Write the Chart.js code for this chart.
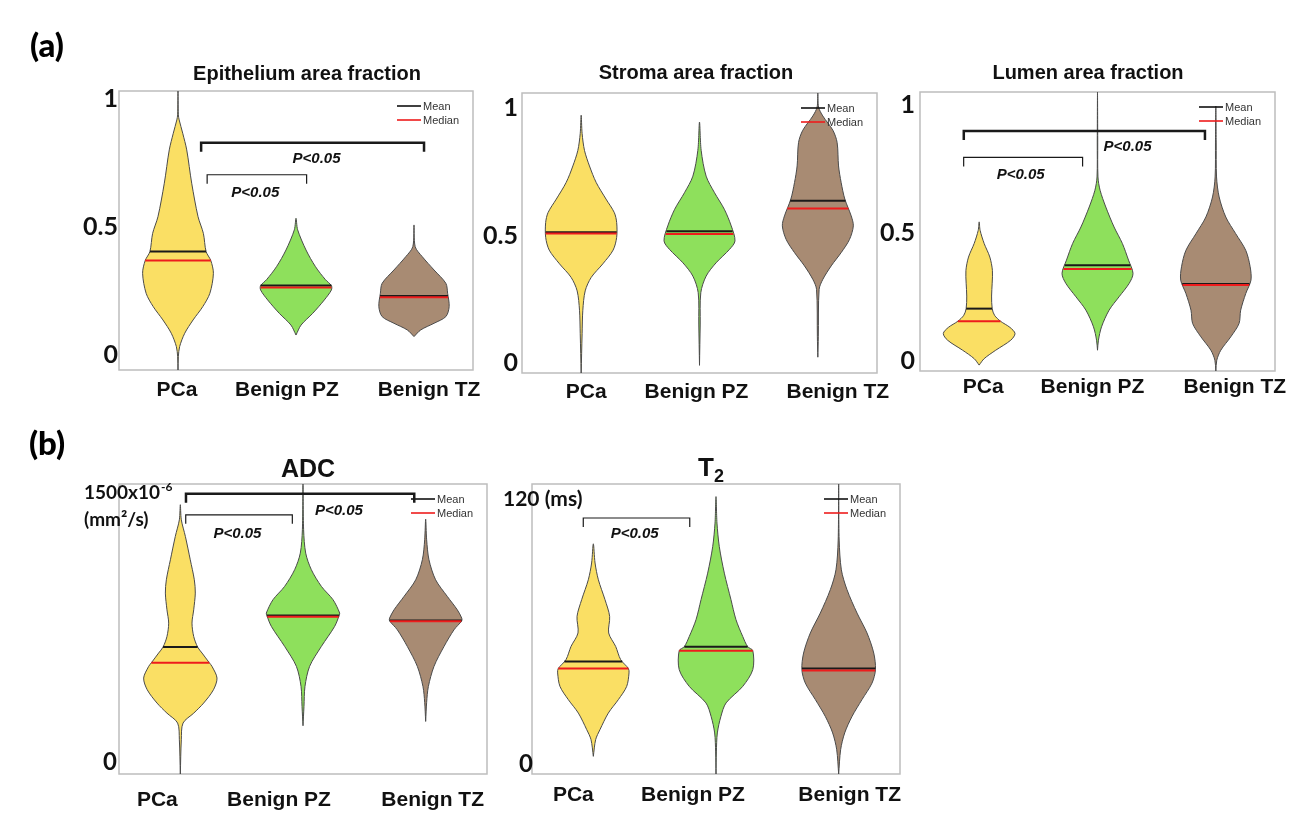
<!DOCTYPE html>
<html><head><meta charset="utf-8">
<script src="https://cdn.jsdelivr.net/npm/chart.js@4.4.1/dist/chart.umd.min.js"></script>
<style>
html,body{margin:0;padding:0;background:#fff;width:1296px;height:826px;overflow:hidden;}
.layer{position:absolute;left:0;top:0;width:1296px;height:826px;}
.txt{position:absolute;white-space:nowrap;color:#111;font-family:"Liberation Sans",Arial,sans-serif;font-weight:bold;transform:translate(-50%,-50%);}
</style></head><body>
<script>
// ---------------- DATA ----------------
const categories = ['PCa', 'Benign PZ', 'Benign TZ'];
const pLabel = 'P<0.05';

// violin profiles: [value, half-width (in category units)], bottom -> top
const epiPCa = [[-0.0625,0],[-0.01,0.003],[0.029,0.014],[0.081,0.057],[0.133,0.128],[0.185,0.21],[0.237,0.27],[0.315,0.30],[0.365,0.278],[0.40,0.238],[0.471,0.215],[0.536,0.17],[0.667,0.116],[0.797,0.074],[0.862,0.04],[0.914,0.01],[0.934,0.003],[1.027,0]];
const epiPZ  = [[0.074,0],[0.113,0.043],[0.159,0.142],[0.211,0.24],[0.25,0.30],[0.267,0.30],[0.29,0.25],[0.341,0.165],[0.406,0.085],[0.485,0.014],[0.53,0]];
const epiTZ  = [[0.068,0],[0.094,0.057],[0.12,0.17],[0.146,0.27],[0.185,0.298],[0.237,0.285],[0.276,0.27],[0.328,0.17],[0.38,0.07],[0.419,0.01],[0.504,0]];
const epiMean   = [0.40, 0.267, 0.226];
const epiMedian = [0.365, 0.26, 0.222];
const epiTicks = [0, 0.5, 1];
const epiTickLabels = ['0', '0.5', '1'];
const epiBrackets = [[1.196,3.085,0.825,1],[1.247,2.09,0.70,0]];
const epiPText = [[2.174,0.766],[1.655,0.633]];

const strPCa = [[-0.042,0],[0.112,0.008],[0.204,0.014],[0.28,0.034],[0.333,0.085],[0.386,0.183],[0.44,0.27],[0.49,0.30],[0.548,0.30],[0.587,0.28],[0.64,0.21],[0.705,0.127],[0.77,0.07],[0.831,0.028],[0.897,0.008],[0.969,0]];
const strPZ  = [[-0.012,0],[0.15,0.006],[0.273,0.011],[0.338,0.056],[0.39,0.14],[0.443,0.254],[0.476,0.30],[0.535,0.268],[0.6,0.21],[0.665,0.127],[0.73,0.056],[0.831,0.014],[0.942,0]];
const strTZ  = [[0.02,0],[0.1,0.004],[0.286,0.011],[0.325,0.042],[0.378,0.113],[0.43,0.197],[0.482,0.268],[0.535,0.30],[0.574,0.282],[0.64,0.228],[0.705,0.197],[0.77,0.175],[0.862,0.163],[0.91,0.127],[0.966,0.042],[1.001,0.006],[1.056,0]];
const strMean   = [0.51, 0.514, 0.633];
const strMedian = [0.505, 0.503, 0.603];
const strTicks = [0, 0.5, 1];
const strTickLabels = ['0', '0.5', '1'];
const strBrackets = [];
const strPText = [];

const lumPCa = [[-0.019,0],[0.006,0.042],[0.039,0.14],[0.078,0.267],[0.104,0.303],[0.128,0.26],[0.152,0.18],[0.175,0.13],[0.201,0.11],[0.25,0.105],[0.3,0.11],[0.35,0.112],[0.402,0.09],[0.455,0.042],[0.506,0.008],[0.539,0]];
const lumPZ  = [[0.039,0],[0.078,0.008],[0.13,0.034],[0.195,0.098],[0.247,0.182],[0.299,0.267],[0.338,0.30],[0.39,0.262],[0.455,0.21],[0.519,0.14],[0.597,0.07],[0.662,0.022],[0.714,0.004],[0.85,0.002],[1.045,0]];
const lumTZ  = [[-0.042,0],[0.0,0.008],[0.039,0.042],[0.091,0.126],[0.143,0.196],[0.195,0.21],[0.26,0.253],[0.312,0.297],[0.364,0.29],[0.428,0.253],[0.493,0.168],[0.558,0.084],[0.636,0.028],[0.714,0.006],[0.85,0.003],[0.99,0]];
const lumMean   = [0.201, 0.37, 0.297];
const lumMedian = [0.152, 0.355, 0.293];
const lumTicks = [0, 0.5, 1];
const lumTickLabels = ['0', '0.5', '1'];
const lumBrackets = [[0.87,2.908,0.893,1],[0.869,1.874,0.79,0]];
const lumPText = [[2.254,0.835],[1.351,0.727]];

const adcPCa = [[-68,0],[122,0.008],[215,0.022],[270,0.109],[326,0.19],[400,0.27],[465,0.299],[530,0.258],[550,0.236],[604,0.177],[637,0.141],[696,0.109],[770,0.095],[844,0.109],[937,0.122],[1011,0.114],[1122,0.081],[1252,0.041],[1344,0.008],[1428,0]];
const adcPZ  = [[200,0],[307,0.008],[418,0.016],[530,0.054],[641,0.15],[752,0.258],[813,0.295],[826,0.299],[900,0.245],[974,0.15],[1067,0.068],[1159,0.022],[1289,0.005],[1543,0]];
const adcTZ  = [[224,0],[330,0.008],[418,0.022],[530,0.068],[641,0.15],[733,0.231],[783,0.294],[798,0.294],[844,0.258],[918,0.177],[1011,0.081],[1122,0.027],[1233,0.008],[1348,0]];
const adcMean   = [637, 813, 785];
const adcMedian = [550, 806, 780];
const adcTicks = [0, 1500];
const adcTickLabels = ['0', '1500x10^-6|(mm²/s)'];
const adcBrackets = [[1.046,2.907,1489,1],[1.044,1.913,1372,0]];
const adcPText = [[2.293,1404],[1.465,1271]];

const t2PCa = [[3,0],[10.6,0.019],[15.1,0.054],[22.6,0.122],[28.7,0.204],[34.7,0.272],[40.8,0.291],[42.8,0.286],[46.8,0.223],[52.8,0.182],[58.9,0.125],[66.4,0.133],[74,0.095],[83,0.041],[90.6,0.014],[99.3,0]];
const t2PZ  = [[-5,0],[5,0.003],[13.6,0.011],[21.1,0.04],[27.2,0.082],[34.7,0.218],[42.3,0.30],[50.9,0.30],[52.7,0.258],[57.3,0.218],[64.9,0.163],[74,0.122],[86,0.068],[98,0.027],[108.7,0.008],[120.7,0]];
const t2TZ  = [[-5,0],[6,0.016],[13.6,0.049],[21.1,0.109],[28.7,0.19],[36.2,0.272],[42.3,0.30],[49.8,0.286],[58.9,0.231],[67.9,0.15],[78.5,0.068],[87.5,0.022],[101,0.004],[126.4,0]];
const t2Mean   = [46, 52.7, 42.8];
const t2Median = [42.8, 50.9, 41.9];
const t2Ticks = [0, 120];
const t2TickLabels = ['0', '120 (ms)'];
const t2Brackets = [[0.918,1.786,111,0]];
const t2PText = [[1.337,104.2]];

// ---------------- LAYOUT / STYLE ----------------
const fills = ['#FADF64', '#8EE05C', '#A88B73'];
const panels = [
  {box:[119,91,473,370], yMin:-0.0625, yMax:1.027, prof:[epiPCa,epiPZ,epiTZ], mean:epiMean, med:epiMedian, ticks:epiTicks, tl:epiTickLabels, br:epiBrackets, pt:epiPText, xShift:[-1,-9,15], xDy:18, tick:{gap:1,size:25}},
  {box:[522,93,877,373], yMin:-0.042, yMax:1.056, prof:[strPCa,strPZ,strTZ], mean:strMean, med:strMedian, ticks:strTicks, tl:strTickLabels, br:strBrackets, pt:strPText, xShift:[5,-3,20], xDy:17, tick:{gap:4,size:25}},
  {box:[920,92,1275,371], yMin:-0.042, yMax:1.045, prof:[lumPCa,lumPZ,lumTZ], mean:lumMean, med:lumMedian, ticks:lumTicks, tl:lumTickLabels, br:lumBrackets, pt:lumPText, xShift:[4,-5,19], xDy:14, tick:{gap:5,size:25}},
  {box:[119,484,487,774], yMin:-68, yMax:1543, prof:[adcPCa,adcPZ,adcTZ], mean:adcMean, med:adcMedian, ticks:adcTicks, tl:adcTickLabels, br:adcBrackets, pt:adcPText, xShift:[-23,-24,7], xDy:24, tick:{gap:2,size:24,unitLeft:84,unitSize:19,lineGap:27}},
  {box:[532,484,900,774], yMin:-5, yMax:126.4, prof:[t2PCa,t2PZ,t2TZ], mean:t2Mean, med:t2Median, ticks:t2Ticks, tl:t2TickLabels, br:t2Brackets, pt:t2PText, xShift:[-20,-23,11], xDy:19, tick:{gap:-1,size:24,unitLeft:503,unitSize:21,lineGap:27}}
];
const titles = [
  ['Epithelium area fraction', 307, 73, 20],
  ['Stroma area fraction', 696, 72, 20],
  ['Lumen area fraction', 1088, 72, 20],
  ['ADC', 308, 468, 25],
  ['T<sub style="font-size:18px;vertical-align:-6px;">2</sub>', 711, 469, 26]
];

// ---------------- HELPERS ----------------
function widthAt(profile, v) {
  for (let i = 0; i < profile.length - 1; i++) {
    const [v0, w0] = profile[i], [v1, w1] = profile[i + 1];
    if (v >= v0 && v <= v1) return w0 + (w1 - w0) * (v - v0) / (v1 - v0);
  }
  return 0;
}
function violinPoints(profile, c) {
  const right = profile.map(([v, w]) => ({x: c + w, y: v}));
  const left = profile.slice().reverse().map(([v, w]) => ({x: c - w, y: v}));
  return right.concat(left.slice(1));
}
const FONT = '"Liberation Sans", Arial, sans-serif';
const TFONT = 'Lato, "Liberation Sans", sans-serif';

function decoPlugin(p) {
  return {
    id: 'deco',
    beforeDatasetsDraw(chart) {
      const a = chart.chartArea, ctx = chart.ctx;
      ctx.save();
      ctx.strokeStyle = '#bdbdbd'; ctx.lineWidth = 1.5;
      ctx.strokeRect(a.left, a.top, a.right - a.left, a.bottom - a.top);
      ctx.restore();
    },
    afterDatasetsDraw(chart) {
      const a = chart.chartArea, ctx = chart.ctx;
      const xs = chart.scales.x, ys = chart.scales.y;
      ctx.save();
      // legend
      [['Mean', '#111', 15], ['Median', '#ee1c1c', 29]].forEach(([t, col, dy]) => {
        ctx.strokeStyle = col; ctx.lineWidth = 1.6;
        ctx.beginPath(); ctx.moveTo(a.right - 76, a.top + dy); ctx.lineTo(a.right - 52, a.top + dy); ctx.stroke();
        ctx.fillStyle = '#333'; ctx.font = '11px ' + FONT; ctx.textBaseline = 'middle'; ctx.textAlign = 'left';
        ctx.fillText(t, a.right - 50, a.top + dy + 1);
      });
      // brackets
      p.br.forEach(b => {
        const x1 = xs.getPixelForValue(b[0]), x2 = xs.getPixelForValue(b[1]), y = ys.getPixelForValue(b[2]);
        ctx.strokeStyle = '#1a1a1a'; ctx.lineWidth = b[3] ? 2.5 : 1.2;
        ctx.beginPath(); ctx.moveTo(x1, y + 9); ctx.lineTo(x1, y); ctx.lineTo(x2, y); ctx.lineTo(x2, y + 9); ctx.stroke();
      });
      ctx.fillStyle = '#111'; ctx.font = 'italic bold 15px ' + FONT; ctx.textAlign = 'center'; ctx.textBaseline = 'alphabetic';
      p.pt.forEach(t => {
        ctx.fillText(pLabel, xs.getPixelForValue(t[0]), ys.getPixelForValue(t[1]) + 5.5);
      });
      // x labels
      ctx.font = 'bold 21px ' + FONT; ctx.fillStyle = '#111'; ctx.textAlign = 'center';
      categories.forEach((c, i) => {
        ctx.fillText(c, xs.getPixelForValue(i + 1) + p.xShift[i], a.bottom + p.xDy + 7.5);
      });
      // y labels
      p.ticks.forEach((v, i) => {
        const y = ys.getPixelForValue(v);
        const lab = p.tl[i];
        if (lab.indexOf('|') < 0 && lab.length <= 3) {
          ctx.font = 'bold ' + p.tick.size + 'px ' + TFONT; ctx.textAlign = 'right';
          ctx.fillText(lab, a.left - p.tick.gap, y + p.tick.size * 0.36);
        } else {
          const s = p.tick.unitSize;
          const lines = lab.split('|');
          lines.forEach((ln, k) => {
            const yy = y + k * p.tick.lineGap + s * 0.36;
            let x = p.tick.unitLeft;
            ctx.textAlign = 'left';
            const parts = ln.split('^');
            ctx.font = 'bold ' + s + 'px ' + TFONT;
            ctx.fillText(parts[0], x, yy);
            if (parts[1]) {
              x += ctx.measureText(parts[0]).width + 1;
              ctx.font = 'bold ' + Math.round(s * 0.62) + 'px ' + TFONT;
              ctx.fillText(parts[1], x, yy - s * 0.42);
            }
          });
        }
      });
      ctx.restore();
    }
  };
}

// ---------------- BUILD ----------------
panels.forEach(p => {
  const div = document.createElement('div'); div.className = 'layer';
  const cv = document.createElement('canvas'); div.appendChild(cv); document.body.appendChild(div);
  const datasets = [];
  p.prof.forEach((pr, i) => {
    datasets.push({type: 'line', data: violinPoints(pr, i + 1), borderColor: '#4a4a4a', borderWidth: 1,
      backgroundColor: fills[i], fill: 'shape', tension: 0.3, pointRadius: 0, order: 3});
  });
  p.prof.forEach((pr, i) => {
    const w = widthAt(pr, p.mean[i]);
    datasets.push({type: 'line', data: [{x: i + 1 - w, y: p.mean[i]}, {x: i + 1 + w, y: p.mean[i]}],
      borderColor: '#1a1a1a', borderWidth: 2, pointRadius: 0, fill: false, order: 2});
  });
  p.prof.forEach((pr, i) => {
    const w = widthAt(pr, p.med[i]);
    datasets.push({type: 'line', data: [{x: i + 1 - w, y: p.med[i]}, {x: i + 1 + w, y: p.med[i]}],
      borderColor: '#ee1c1c', borderWidth: 2, pointRadius: 0, fill: false, order: 1});
  });
  new Chart(cv, {
    type: 'scatter',
    data: {datasets},
    options: {
      responsive: true, maintainAspectRatio: false, animation: false, events: [],
      layout: {padding: {left: p.box[0], top: p.box[1], right: 1296 - p.box[2], bottom: 826 - p.box[3]}},
      scales: {
        x: {type: 'linear', min: 0.5, max: 3.5, display: false},
        y: {type: 'linear', min: p.yMin, max: p.yMax, display: false}
      },
      plugins: {legend: {display: false}, tooltip: {enabled: false}}
    },
    plugins: [decoPlugin(p)]
  });
});

// titles and panel letters (HTML text)
titles.forEach(([t, x, y, s]) => {
  const d = document.createElement('div'); d.className = 'txt';
  d.style.left = x + 'px'; d.style.top = y + 'px'; d.style.fontSize = s + 'px';
  d.innerHTML = t; document.body.appendChild(d);
});
[['(a)', 47, 44], ['(b)', 47, 442]].forEach(([t, x, y]) => {
  const d = document.createElement('div'); d.className = 'txt';
  d.style.left = x + 'px'; d.style.top = y + 'px'; d.style.fontSize = '33px';
  d.style.fontFamily = 'Lato, sans-serif'; d.style.fontWeight = '900'; d.style.color = '#000';
  d.textContent = t; document.body.appendChild(d);
});
</script>
</body></html>
